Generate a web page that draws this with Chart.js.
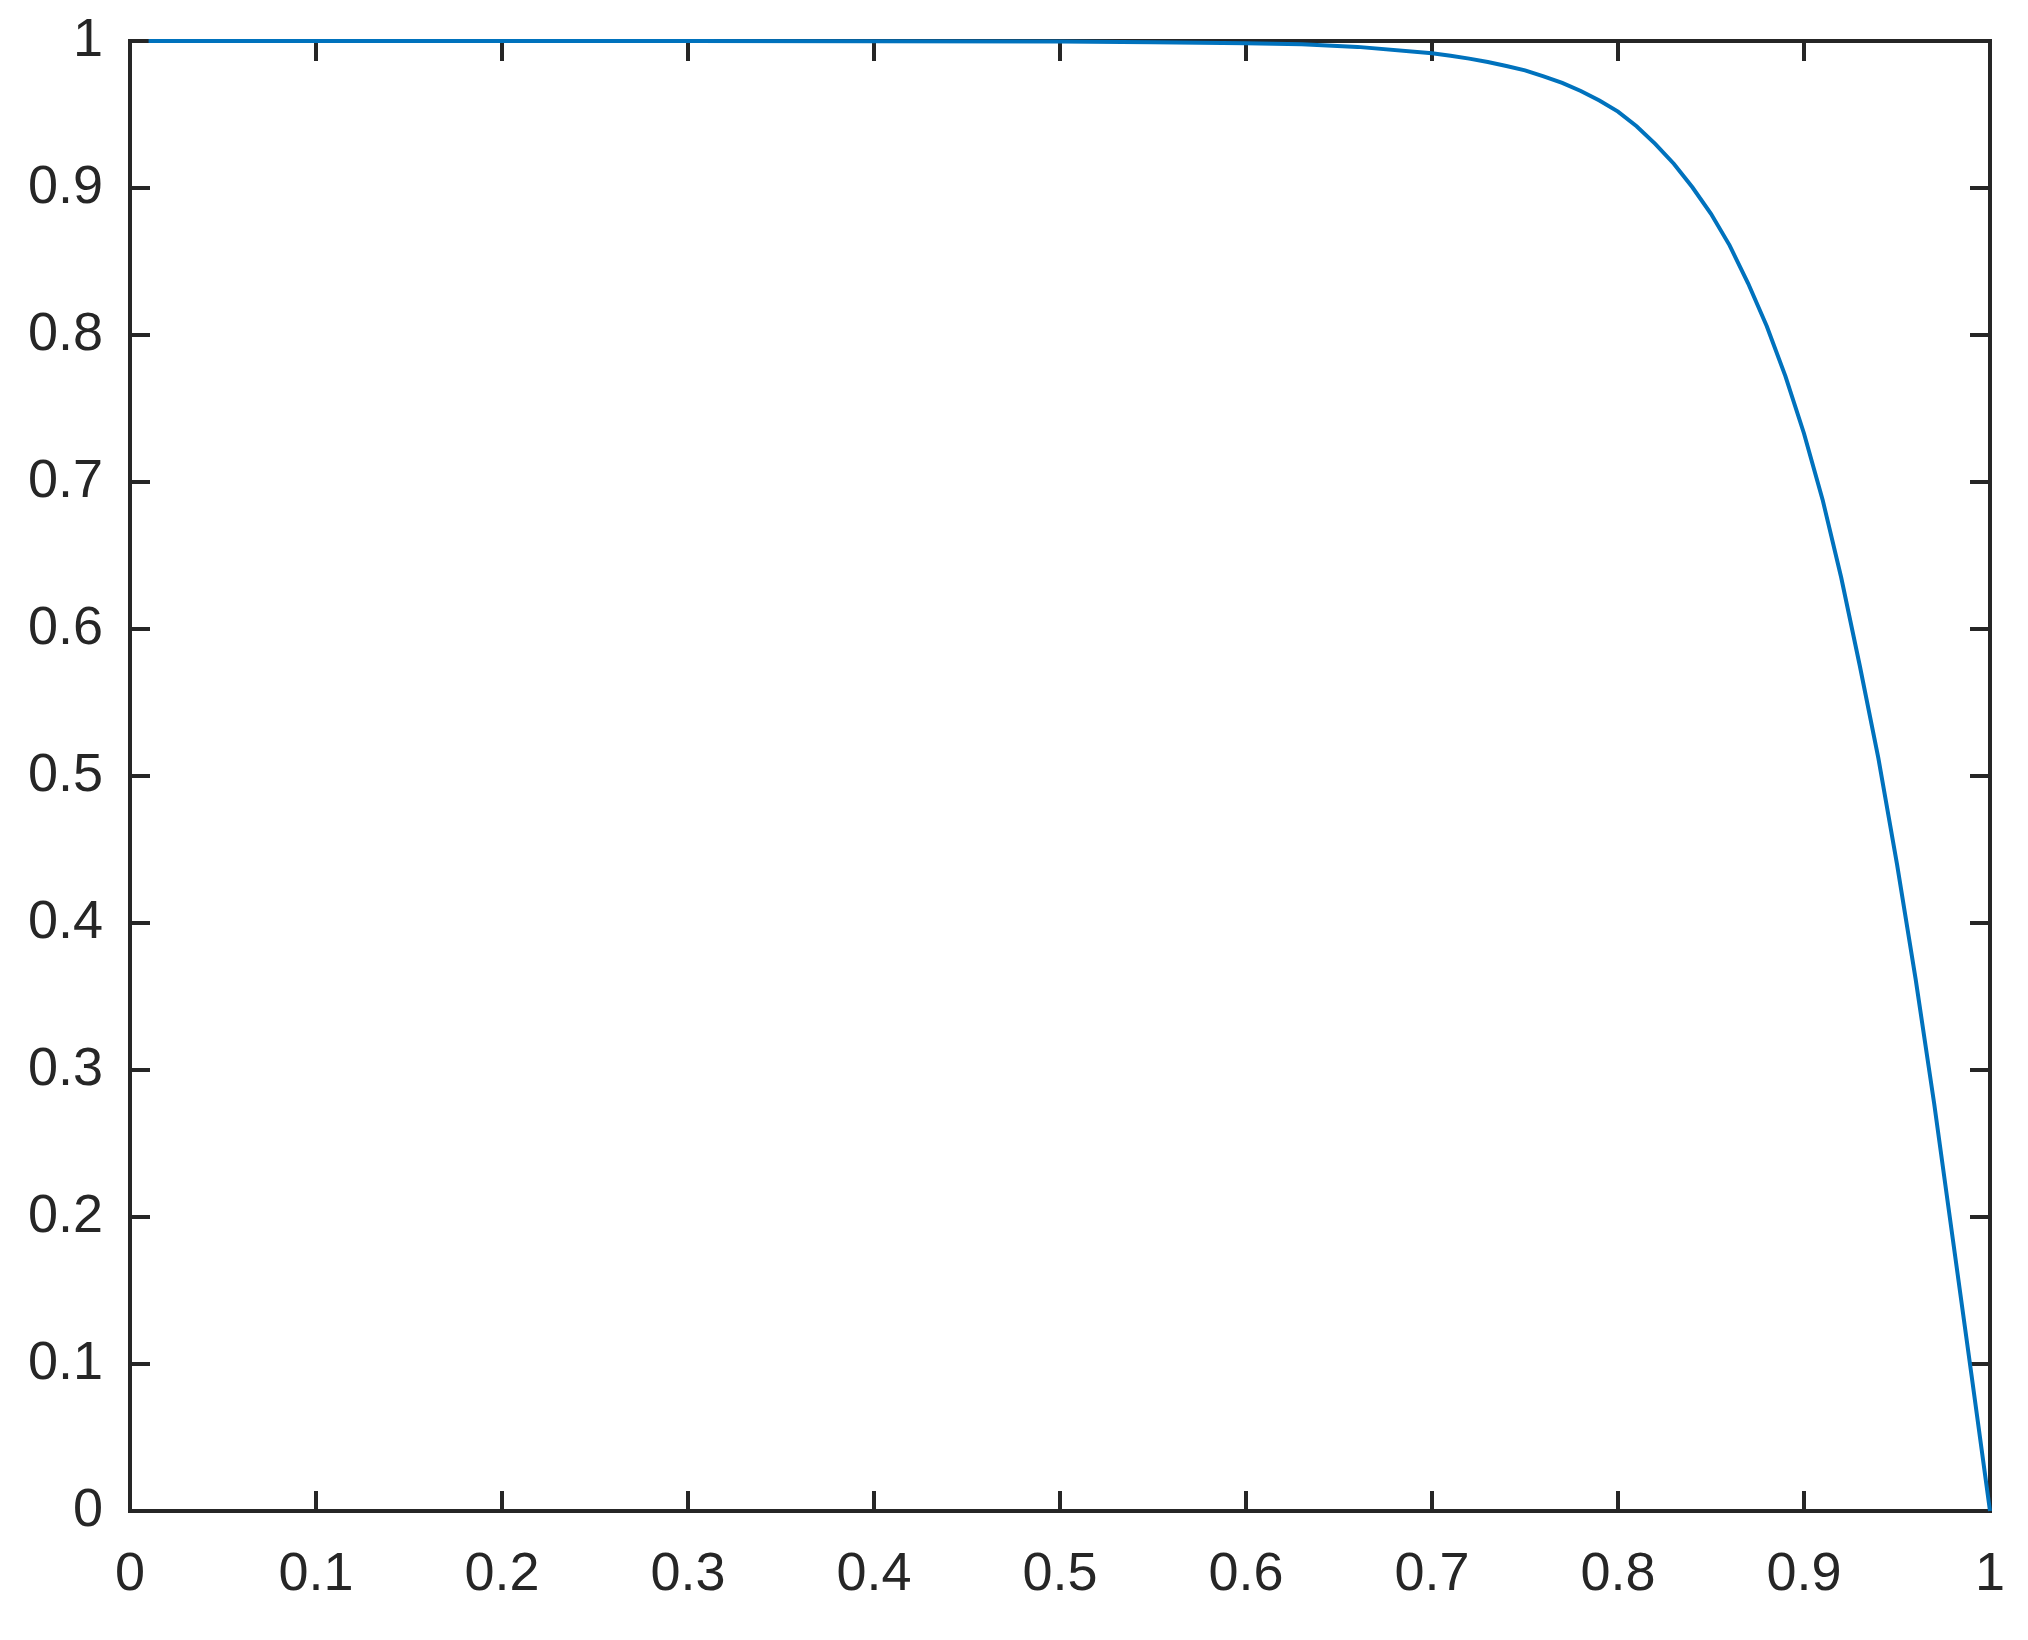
<!DOCTYPE html>
<html>
<head>
<meta charset="utf-8">
<title>Curve</title>
<script src="https://cdn.jsdelivr.net/npm/chart.js@4.4.1/dist/chart.umd.min.js"></script>
<style>
  html, body { margin: 0; padding: 0; background: #ffffff; }
  canvas { display: block; }
</style>
</head>
<body>
<canvas id="curveChart" width="2028" height="1640"></canvas>
<script>
// ─────────────────────────────────────────
// DATA
// ─────────────────────────────────────────

const xValues = [
  0.01, 0.1, 0.2, 0.3, 0.4, 0.5, 0.55, 0.6, 0.63, 0.66,
  0.7, 0.71, 0.72, 0.73, 0.74, 0.75, 0.76, 0.77, 0.78, 0.79,
  0.8, 0.81, 0.82, 0.83, 0.84, 0.85, 0.86, 0.87, 0.88, 0.89,
  0.9, 0.91, 0.92, 0.93, 0.94, 0.95, 0.96, 0.97, 0.98, 0.99, 1.0
];
const yValues = [
  1, 1, 1, 1, 0.9999, 0.9996, 0.9992, 0.9985, 0.9978, 0.996,
  0.9916, 0.9899, 0.988, 0.9857, 0.983, 0.980, 0.976, 0.9715, 0.966, 0.9595,
  0.952, 0.942, 0.930, 0.9165, 0.9005, 0.8825, 0.861, 0.835, 0.806, 0.772,
  0.733, 0.688, 0.635, 0.575, 0.512, 0.440, 0.362, 0.277, 0.185, 0.093, 0
];

const xTickLabels = ["0", "0.1", "0.2", "0.3", "0.4", "0.5", "0.6", "0.7", "0.8", "0.9", "1"];
const yTickLabels = ["0", "0.1", "0.2", "0.3", "0.4", "0.5", "0.6", "0.7", "0.8", "0.9", "1"];

const AXIS_COLOR = "#262626";
const LINE_COLOR = "#0072BD";
const TICK_LEN   = 20;

// ─────────────────────────────────────────
// BOX + INWARD TICKS (matlab style)
// ─────────────────────────────────────────

const framePlugin = {
  id: "frame",
  beforeDatasetsDraw(chart) {
    const { ctx, chartArea: a, scales } = chart;
    ctx.save();
    ctx.strokeStyle = AXIS_COLOR;
    ctx.lineWidth = 4;
    ctx.lineCap = "butt";
    ctx.strokeRect(a.left, a.top, a.right - a.left, a.bottom - a.top);

    ctx.beginPath();
    scales.x.ticks.forEach(t => {
      const px = scales.x.getPixelForValue(t.value);
      ctx.moveTo(px, a.bottom); ctx.lineTo(px, a.bottom - TICK_LEN);
      ctx.moveTo(px, a.top);    ctx.lineTo(px, a.top + TICK_LEN);
    });
    scales.y.ticks.forEach(t => {
      const py = scales.y.getPixelForValue(t.value);
      ctx.moveTo(a.left, py);  ctx.lineTo(a.left + TICK_LEN, py);
      ctx.moveTo(a.right, py); ctx.lineTo(a.right - TICK_LEN, py);
    });
    ctx.stroke();
    ctx.restore();
  }
};

// keep the plot box fixed, labels may hang outside it
function fixBox(size) {
  return s => {
    if (s.isHorizontal()) s.height = size; else s.width = size;
    s.paddingLeft = s.paddingRight = s.paddingTop = s.paddingBottom = 0;
  };
}

// ─────────────────────────────────────────
// CHART
// ─────────────────────────────────────────

const tickFont = { family: "'Liberation Sans', Helvetica, Arial, sans-serif", size: 54 };

new Chart(document.getElementById("curveChart"), {
  type: "line",
  data: {
    datasets: [{
      data: xValues.map((x, i) => ({ x: x, y: yValues[i] })),
      borderColor: LINE_COLOR,
      borderWidth: 4,
      pointRadius: 0,
      tension: 0,
      fill: false,
      clip: false
    }]
  },
  options: {
    responsive: false,
    animation: false,
    devicePixelRatio: 1,
    layout: { padding: { top: 41, right: 38, left: 0, bottom: 0 } },
    plugins: { legend: { display: false }, tooltip: { enabled: false } },
    scales: {
      x: {
        type: "linear",
        min: 0, max: 1,
        grid: { display: false, drawTicks: false },
        border: { display: false },
        ticks: {
          stepSize: 0.1,
          color: AXIS_COLOR,
          font: tickFont,
          padding: 32,
          maxRotation: 0,
          autoSkip: false,
          callback: (v, i) => xTickLabels[i]
        },
        afterFit: fixBox(129)
      },
      y: {
        type: "linear",
        min: 0, max: 1,
        grid: { display: false, drawTicks: false },
        border: { display: false },
        ticks: {
          stepSize: 0.1,
          color: AXIS_COLOR,
          font: tickFont,
          padding: 27,
          autoSkip: false,
          callback: (v, i) => yTickLabels[i]
        },
        afterFit: fixBox(130)
      }
    }
  },
  plugins: [framePlugin]
});
</script>
</body>
</html>
